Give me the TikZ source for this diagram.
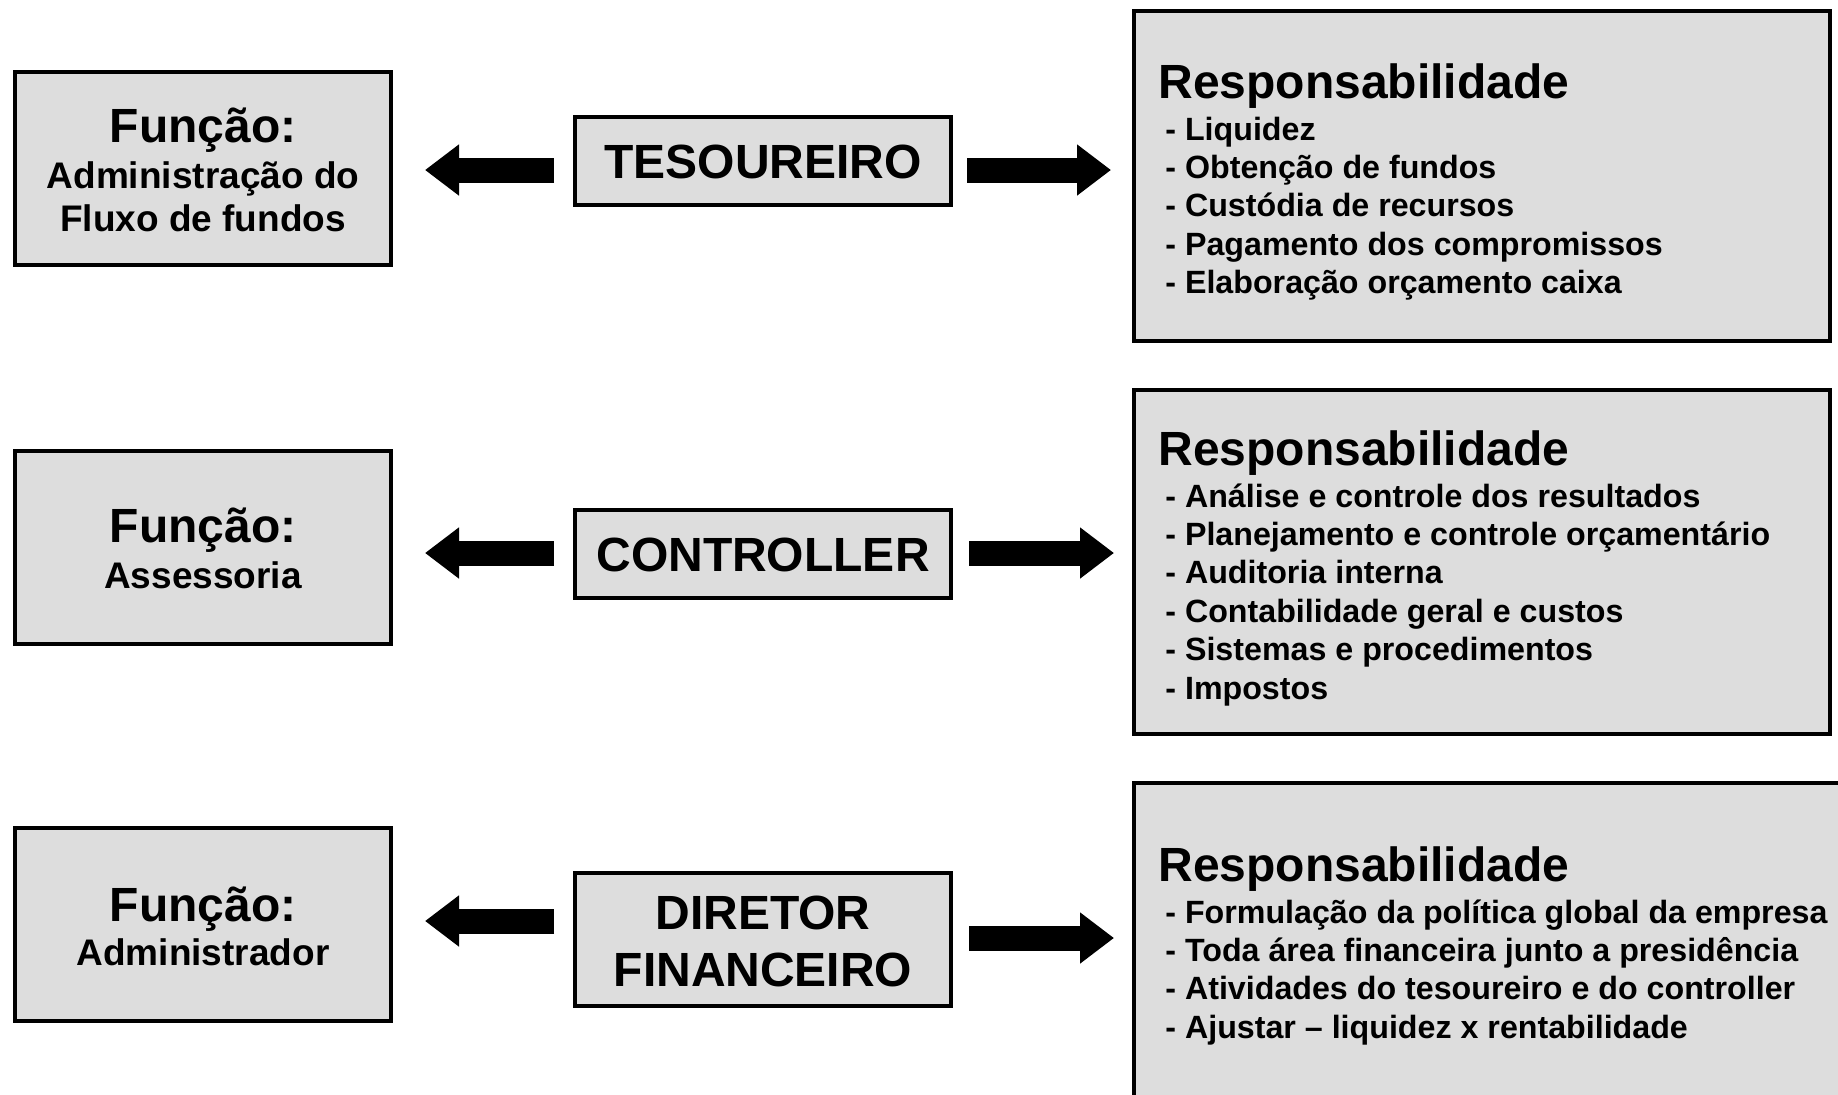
\documentclass[tikz,border=0pt]{standalone}
\usepackage{fontspec}
\setmainfont{Liberation Sans}
\usepackage{xcolor}
\usepackage{tikz}
\usetikzlibrary{arrows.meta}
\definecolor{boxgray}{RGB}{221,221,221}
\tikzset{
box/.style={
  rectangle,
  draw,
  line width=2pt,
  fill=boxgray,
  inner sep=0pt
},
funcbox/.style={box,minimum width=188pt,minimum height=96.5pt},
rolebox/.style={box,minimum width=188pt,minimum height=44pt},
respbox/.style={box,minimum width=348pt,minimum height=165pt},
bigtext/.style={font=\fontsize{24}{28}\selectfont\bfseries,inner sep=0pt,anchor=base},
subtext/.style={font=\fontsize{18.5}{22}\selectfont\bfseries,inner sep=0pt,anchor=base},
itemtext/.style={font=\fontsize{16.1}{19}\selectfont\bfseries,inner sep=0pt,anchor=base west},
fatarrow/.style={line width=12.5pt,-{Triangle[length=17pt,width=24.5pt]}}
}

\begin{document}
\begin{tikzpicture}[x=0.5pt,y=-0.5pt]
\clip (0,0) rectangle (1838,1094);
% the boxes
\node[funcbox] (f1) at (203,168.5) {};
\node[funcbox] (f2) at (203,547) {};
\node[funcbox] (f3) at (203,924.5) {};
\node[rolebox] (t1) at (763,161) {};
\node[rolebox] (t2) at (763,554) {};
\node[rolebox,minimum height=66.5pt] (t3) at (763,939.5) {};
\node[respbox] (p1) at (1482,176) {};
\node[respbox,minimum height=172pt] (p2) at (1482,562) {};
\node[respbox,minimum width=362pt,minimum height=172.5pt] (p3) at (1496,955.5) {};
% the texts
\node[bigtext] (f1-title) at (203,142.7) {Função:};
\node[subtext] (f1-a) at (203,188) {Administração do};
\node[subtext] (f1-b) at (203,231.7) {Fluxo de fundos};
\node[bigtext] (f2-title) at (203,542) {Função:};
\node[subtext] (f2-a) at (203,588) {Assessoria};
\node[bigtext] (f3-title) at (203,921) {Função:};
\node[subtext] (f3-a) at (203,965) {Administrador};
\node[bigtext] (t1-name) at (763,178) {TESOUREIRO};
\node[bigtext] (t2-name) at (763,571.5) {CONTROLLER};
\node[bigtext] (t3-a) at (763,929) {DIRETOR};
\node[bigtext] (t3-b) at (763,986) {FINANCEIRO};
\node[bigtext,anchor=base west] (p1-title) at (1158,98) {Responsabilidade};
\node[bigtext,anchor=base west] (p2-title) at (1158,465) {Responsabilidade};
\node[bigtext,anchor=base west] (p3-title) at (1158,881) {Responsabilidade};
\foreach \txt [count=\i from 0] in {Liquidez,Obtenção de fundos,Custódia de recursos,Pagamento dos compromissos,Elaboração orçamento caixa}
  \node[itemtext] (p1-\i) at (1165,{140+38.4*\i}) {- \txt};
\foreach \txt [count=\i from 0] in {Análise e controle dos resultados,Planejamento e controle orçamentário,Auditoria interna,Contabilidade geral e custos,Sistemas e procedimentos,Impostos}
  \node[itemtext] (p2-\i) at (1165,{507+38.4*\i}) {- \txt};
\foreach \txt [count=\i from 0] in {Formulação da política global da empresa,Toda área financeira junto a presidência,Atividades do tesoureiro e do controller,Ajustar – liquidez x rentabilidade}
  \node[itemtext] (p3-\i) at (1165,{923+38.4*\i}) {- \txt};
% the arrows
\coordinate (r1) at (0,170);
\coordinate (r2) at (0,553);
\coordinate (r3) at (0,921);
\coordinate (s3) at (0,938);
\begin{scope}[fatarrow]
\draw[shorten <=9.5pt,shorten >=16pt] (t1.west |- r1) -- (f1.east |- r1);
\draw[shorten <=9.5pt,shorten >=16pt] (t2.west |- r2) -- (f2.east |- r2);
\draw[shorten <=9.5pt,shorten >=16pt] (t3.west |- r3) -- (f3.east |- r3);
\draw[shorten <=7pt,shorten >=10.5pt] (t1.east |- r1) -- (p1.west |- r1);
\draw[shorten <=8pt,shorten >=9pt] (t2.east |- r2) -- (p2.west |- r2);
\draw[shorten <=8pt,shorten >=9pt] (t3.east |- s3) -- (p3.west |- s3);
\end{scope}
\end{tikzpicture}
\end{document}
